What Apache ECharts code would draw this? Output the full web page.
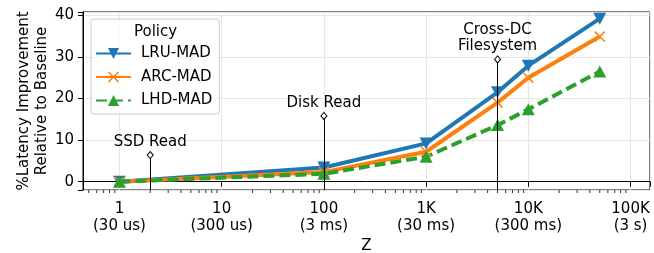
<!DOCTYPE html>
<html>
<head>
<meta charset="utf-8">
<script src="https://cdn.jsdelivr.net/npm/echarts@6/dist/echarts.min.js"></script>
<style>
  html, body { margin: 0; padding: 0; background: #fff; }
  #chart { width: 654px; height: 253px; }
</style>
</head>
<body>
<div id="chart"></div>
<script>
// data
const zValues = [1, 100, 1000, 5000, 10000, 50000]
const lruMad = [0, 3.4, 9.2, 21.5, 27.9, 39.2]
const arcMad = [0, 2.3, 7.2, 19.0, 25.0, 34.9]
const lhdMad = [0, 1.9, 6.0, 13.6, 17.4, 26.5]

const xTickValues = [1, 10, 100, 1000, 10000, 100000]
const xTickLabels = ['1\n(30 us)', '10\n(300 us)', '100\n(3 ms)', '1K\n(30 ms)', '10K\n(300 ms)', '100K\n(3 s)']
const minorTickValues = [
  0.5, 0.6, 0.7, 0.8, 0.9,
  2, 3, 4, 5, 6, 7, 8, 9,
  20, 30, 40, 50, 60, 70, 80, 90,
  200, 300, 400, 500, 600, 700, 800, 900,
  2000, 3000, 4000, 5000, 6000, 7000, 8000, 9000,
  20000, 30000, 40000, 50000, 60000, 70000, 80000, 90000
]
const yTickValues = [0, 10, 20, 30, 40]

const annotX = [2, 100, 5000]
const annotY = [6.4, 15.8, 29.4]
const annotText = ['SSD Read', 'Disk Read', 'Cross-DC\nFilesystem']

const X_MIN = 0.44, X_MAX = 155000
const Y_MIN = -2, Y_MAX = 40.8
const FONT = 'DejaVu Sans'

const pair = ys => zValues.map((z, i) => [z, ys[i]])

const chart = echarts.init(document.getElementById('chart'), null, { renderer: 'canvas' })

const option = {
  animation: false,
  textStyle: { fontFamily: FONT },
  grid: {
    left: 83, right: 4, top: 12, bottom: 63,
    outerBoundsMode: 'none',
    show: true, borderColor: '#000', borderWidth: 1, backgroundColor: 'transparent'
  },
  legend: {
    data: ['LRU-MAD', 'ARC-MAD', 'LHD-MAD'],
    orient: 'vertical',
    left: 91, top: 19,
    itemWidth: 35, itemHeight: 14, itemGap: 8.5,
    padding: [27, 7, 6, 4],
    backgroundColor: 'rgba(255,255,255,0.8)',
    borderColor: '#cccccc', borderWidth: 1, borderRadius: 3,
    textStyle: { fontSize: 15, color: '#000', fontFamily: FONT, padding: [0, 0, 0, 5] },
    z: 20
  },
  graphic: [{
    type: 'text', left: 134, top: 25, z: 30,
    style: { text: 'Policy', fontSize: 15, fontFamily: FONT, fill: '#000' }
  }],
  xAxis: {
    type: 'log', logBase: 10, min: X_MIN, max: X_MAX,
    name: 'Z', nameLocation: 'middle', nameGap: 49,
    nameMoveOverlap: false,
    nameTextStyle: { fontSize: 15, color: '#000', fontFamily: FONT },
    axisLine: { lineStyle: { color: '#000', width: 1 } },
    axisTick: { show: true, inside: false, length: 5, lineStyle: { color: '#000' } },
    axisLabel: {
      fontSize: 15, color: '#000', lineHeight: 17.5, margin: 10, fontFamily: FONT,
      formatter: v => {
        const i = xTickValues.findIndex(t => Math.abs(t - v) / t < 1e-6)
        return i < 0 ? '' : xTickLabels[i]
      }
    },
    splitLine: { show: true, lineStyle: { color: '#e6e6e6', width: 1 } }
  },
  yAxis: {
    type: 'value', min: Y_MIN, max: Y_MAX,
    name: '%Latency Improvement\nRelative to Baseline',
    nameLocation: 'middle', nameRotate: 90, nameGap: 32,
    nameMoveOverlap: false,
    nameTextStyle: { fontSize: 15, color: '#000', lineHeight: 18, fontFamily: FONT },
    axisLine: { show: true, lineStyle: { color: '#000', width: 1 } },
    axisTick: { show: true, inside: false, length: 5, lineStyle: { color: '#000' } },
    axisLabel: {
      fontSize: 15, color: '#000', margin: 9, fontFamily: FONT,
      formatter: v => (yTickValues.includes(v) ? String(v) : '')
    },
    splitLine: { show: true, lineStyle: { color: '#e6e6e6', width: 1 } }
  },
  series: [
    {
      name: 'LRU-MAD', type: 'line', data: pair(lruMad),
      color: '#1f77b4',
      lineStyle: { width: 4, color: '#1f77b4' },
      symbol: 'triangle', symbolRotate: 180, symbolSize: [13, 12],
      itemStyle: { color: '#1f77b4' },
      showAllSymbol: true, z: 3
    },
    {
      name: 'ARC-MAD', type: 'line', data: pair(arcMad),
      color: '#ff7f0e',
      lineStyle: { width: 4, color: '#ff7f0e' },
      symbol: 'path://M0,1L1,0L10,9L9,10ZM9,0L10,1L1,10L0,9Z', symbolSize: 11,
      itemStyle: { color: '#ff7f0e' },
      showAllSymbol: true, z: 3
    },
    {
      name: 'LHD-MAD', type: 'line', data: pair(lhdMad),
      color: '#2ca02c',
      lineStyle: { width: 4, color: '#2ca02c', type: [11, 5] },
      symbol: 'triangle', symbolSize: [13, 12],
      itemStyle: { color: '#2ca02c' },
      showAllSymbol: true, z: 3
    },
    {
      // minor ticks of the log axis
      type: 'custom', silent: true, z: 4,
      data: minorTickValues.map(v => [v, Y_MIN]),
      renderItem: (params, api) => {
        const p = api.coord([api.value(0), api.value(1)])
        return {
          type: 'line',
          shape: { x1: p[0], y1: p[1], x2: p[0], y2: p[1] + 3 },
          style: { stroke: '#000', lineWidth: 0.8 }
        }
      }
    },
    {
      // annotation pins
      name: 'annot', type: 'scatter', z: 10, silent: true,
      data: annotX.map((x, i) => [x, annotY[i]]),
      symbol: 'diamond', symbolSize: [6, 7],
      itemStyle: { color: '#fff', borderColor: '#000', borderWidth: 1, opacity: 1 },
      label: {
        show: true, position: 'top', distance: 1,
        formatter: p => annotText[p.dataIndex],
        fontSize: 15, lineHeight: 16, color: '#000', align: 'center', fontFamily: FONT
      },
      markLine: {
        silent: true, symbol: 'none', animation: false,
        lineStyle: { color: '#000', width: 1, type: 'solid' },
        label: { show: false },
        emphasis: { disabled: true },
        data: annotX.map((x, i) => [{ coord: [x, Y_MIN] }, { coord: [x, annotY[i]] }])
      }
    }
  ]
}

chart.setOption(option)
</script>
</body>
</html>
